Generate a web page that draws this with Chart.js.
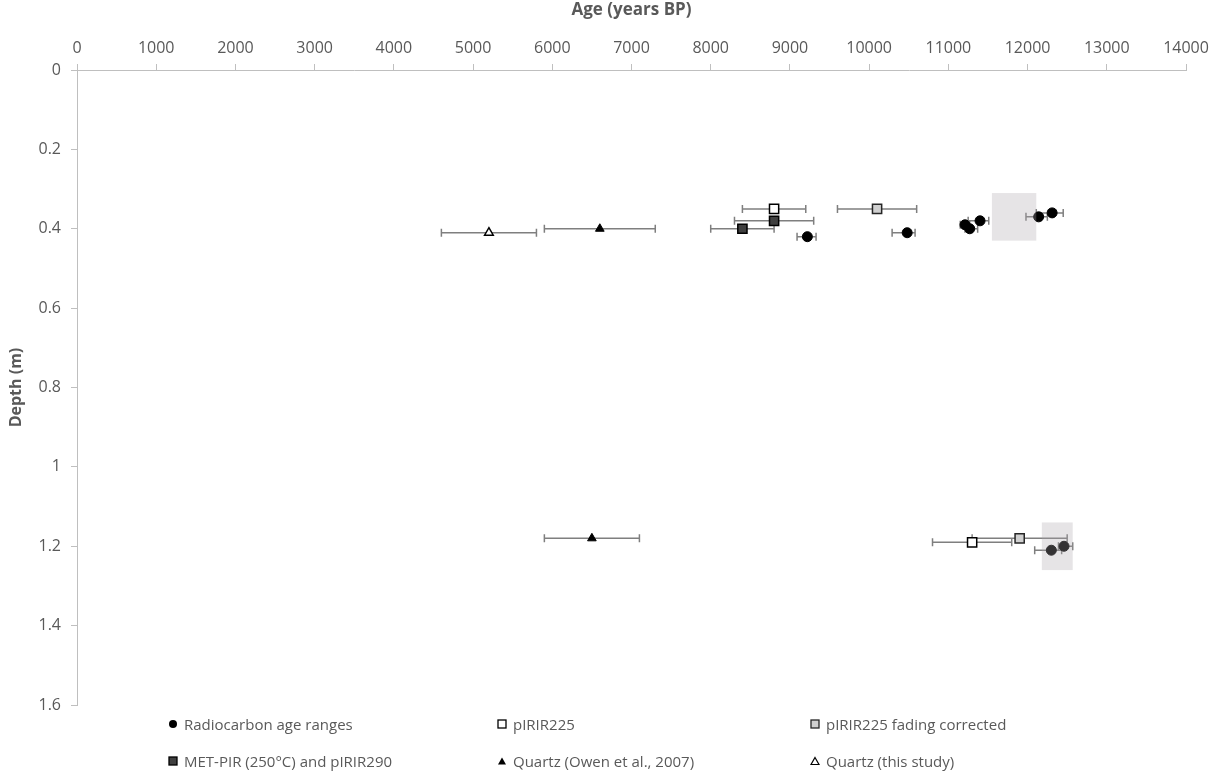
<!DOCTYPE html>
<html>
<head>
<meta charset="utf-8">
<script src="https://cdn.jsdelivr.net/npm/chart.js@4.4.1/dist/chart.umd.min.js"></script>
<style>
  html, body { margin: 0; padding: 0; background: #fff; }
  #wrap { position: relative; width: 1223px; height: 778px; }
  #c { position: absolute; left: 0; top: 0; }
  #legend { position: absolute; left: 0; top: 0; width: 1223px; height: 778px; pointer-events: none;
            font-family: 'Open Sans', sans-serif; font-size: 15px; color: #595959; }
  .item { position: absolute; display: flex; align-items: center; white-space: nowrap; transform: translateY(-50%); }
  .item svg { margin-right: 6px; flex: none; }
</style>
</head>
<body>
<div id="wrap">
  <canvas id="c" width="1223" height="778"></canvas>
  <div id="legend"></div>
</div>
<script>
// Axis ticks
const xTicks = [0, 1000, 2000, 3000, 4000, 5000, 6000, 7000, 8000, 9000, 10000, 11000, 12000, 13000, 14000];
const yTicks = [0, 0.2, 0.4, 0.6, 0.8, 1, 1.2, 1.4, 1.6];

// Radiocarbon age ranges (years BP) with their depths (m)
const radiocarbonAge   = [9220, 10480, 11210, 11270, 11400, 12140, 12310, 12300, 12460];
const radiocarbonDepth = [0.42, 0.41, 0.39, 0.40, 0.38, 0.37, 0.36, 1.21, 1.20];
const radiocarbonLow   = [9090, 10290, 11150, 11210, 11250, 11980, 12110, 12090, 12390];
const radiocarbonHigh  = [9330, 10580, 11270, 11370, 11510, 12250, 12450, 12430, 12570];

// pIRIR225
const pirAge   = [8800, 11300];
const pirDepth = [0.35, 1.19];
const pirLow   = [8400, 10800];
const pirHigh  = [9200, 11800];

// pIRIR225 fading corrected
const fadeAge   = [10100, 11900];
const fadeDepth = [0.35, 1.18];
const fadeLow   = [9600, 11300];
const fadeHigh  = [10600, 12500];

// MET-PIR (250°C) and pIRIR290
const metAge   = [8800, 8400];
const metDepth = [0.38, 0.40];
const metLow   = [8300, 8000];
const metHigh  = [9300, 8800];

// Quartz (Owen et al., 2007)
const owenAge   = [6600, 6500];
const owenDepth = [0.40, 1.18];
const owenLow   = [5900, 5900];
const owenHigh  = [7300, 7100];

// Quartz (this study)
const qtzAge   = [5200];
const qtzDepth = [0.41];
const qtzLow   = [4600];
const qtzHigh  = [5800];

// Shaded calibrated ranges
const boxAgeFrom     = [11550, 12180];
const boxAgeTo       = [12110, 12570];
const boxDepthTop    = [0.31, 1.14];
const boxDepthBottom = [0.43, 1.26];

const FONT = "'Open Sans', sans-serif";
const TEXT = '#595959';
const AXIS = '#bfbfbf';

const pts = (ages, depths) => ages.map((a, i) => ({ x: a, y: depths[i] }));

// Horizontal error bars with end caps, drawn beneath the markers
const errorBars = {
  id: 'errorBars',
  beforeDatasetsDraw(chart) {
    const { ctx, scales: { x, y } } = chart;
    ctx.save();
    ctx.strokeStyle = '#7f7f7f';
    ctx.lineWidth = 1.5;
    chart.data.datasets.forEach((ds, i) => {
      if (!ds.errLow || !chart.isDatasetVisible(i)) return;
      ds.data.forEach((p, j) => {
        const yy = y.getPixelForValue(p.y);
        const x0 = x.getPixelForValue(ds.errLow[j]);
        const x1 = x.getPixelForValue(ds.errHigh[j]);
        ctx.beginPath();
        ctx.moveTo(x0, yy); ctx.lineTo(x1, yy);
        ctx.moveTo(x0, yy - 4); ctx.lineTo(x0, yy + 4);
        ctx.moveTo(x1, yy - 4); ctx.lineTo(x1, yy + 4);
        ctx.stroke();
      });
    });
    ctx.restore();
  }
};

// Translucent boxes over the calibrated age ranges
const rangeBoxes = {
  id: 'rangeBoxes',
  afterDatasetsDraw(chart) {
    const { ctx, scales: { x, y } } = chart;
    ctx.save();
    ctx.fillStyle = 'rgba(172,166,172,0.30)';
    boxAgeFrom.forEach((a, i) => {
      const x0 = x.getPixelForValue(a), x1 = x.getPixelForValue(boxAgeTo[i]);
      const y0 = y.getPixelForValue(boxDepthTop[i]), y1 = y.getPixelForValue(boxDepthBottom[i]);
      ctx.fillRect(x0, y0, x1 - x0, y1 - y0);
    });
    ctx.restore();
  }
};

const datasets = [
  { label: 'Radiocarbon age ranges', data: pts(radiocarbonAge, radiocarbonDepth), errLow: radiocarbonLow, errHigh: radiocarbonHigh,
    pointStyle: 'circle', pointRadius: 5, backgroundColor: '#000', borderColor: '#000', borderWidth: 1 },
  { label: 'pIRIR225', data: pts(pirAge, pirDepth), errLow: pirLow, errHigh: pirHigh,
    pointStyle: 'rect', pointRadius: 6.5, backgroundColor: '#fff', borderColor: '#000', borderWidth: 1.5 },
  { label: 'pIRIR225 fading corrected', data: pts(fadeAge, fadeDepth), errLow: fadeLow, errHigh: fadeHigh,
    pointStyle: 'rect', pointRadius: 6.5, backgroundColor: '#d0d0d0', borderColor: '#262626', borderWidth: 1.5 },
  { label: 'MET-PIR (250°C) and pIRIR290', data: pts(metAge, metDepth), errLow: metLow, errHigh: metHigh,
    pointStyle: 'rect', pointRadius: 6.5, backgroundColor: '#404040', borderColor: '#000', borderWidth: 1.5 },
  { label: 'Quartz (Owen et al., 2007)', data: pts(owenAge, owenDepth), errLow: owenLow, errHigh: owenHigh,
    pointStyle: 'triangle', pointRadius: 5, backgroundColor: '#000', borderColor: '#000', borderWidth: 1 },
  { label: 'Quartz (this study)', data: pts(qtzAge, qtzDepth), errLow: qtzLow, errHigh: qtzHigh,
    pointStyle: 'triangle', pointRadius: 5, backgroundColor: '#fff', borderColor: '#000', borderWidth: 1.5 }
];

new Chart(document.getElementById('c'), {
  type: 'scatter',
  data: { datasets },
  plugins: [errorBars, rangeBoxes],
  options: {
    responsive: false,
    animation: false,
    layout: { padding: { left: 0, top: 0, right: 37, bottom: 73 } },
    plugins: { legend: { display: false }, tooltip: { enabled: false } },
    scales: {
      x: {
        type: 'linear', position: 'top', min: 0, max: 14000,
        afterBuildTicks: s => { s.ticks = xTicks.map(v => ({ value: v })); },
        afterFit: s => { s.height = 70; },
        grid: { drawOnChartArea: false, drawTicks: true, tickLength: 6, color: AXIS },
        border: { color: AXIS, width: 1 },
        ticks: { color: TEXT, font: { family: FONT, size: 16 }, padding: 6, maxRotation: 0, autoSkip: false,
                 callback: v => String(v) },
        title: { display: true, text: 'Age (years BP)', color: TEXT, font: { family: FONT, size: 17, weight: 'bold' },
                 padding: { top: 0, bottom: 0 } }
      },
      y: {
        type: 'linear', position: 'left', reverse: true, min: 0, max: 1.6,
        afterBuildTicks: s => { s.ticks = yTicks.map(v => ({ value: v })); },
        afterFit: s => { s.width = 77; },
        grid: { drawOnChartArea: false, drawTicks: true, tickLength: 6, color: AXIS },
        border: { color: AXIS, width: 1 },
        ticks: { color: TEXT, font: { family: FONT, size: 16 }, padding: 10, autoSkip: false,
                 callback: v => String(v) },
        title: { display: true, text: 'Depth (m)', color: TEXT, font: { family: FONT, size: 16, weight: 'bold' },
                 padding: { top: 7, bottom: 0 } }
      }
    }
  }
});

// Legend: three columns, two rows
const legendCols = [168, 497, 810];
const legendRows = [724, 761];
const markerSvg = {
  'Radiocarbon age ranges': '<circle cx="5" cy="5" r="4" fill="#000"/>',
  'pIRIR225': '<rect x="1" y="1" width="8" height="8" fill="#fff" stroke="#000" stroke-width="1.3"/>',
  'pIRIR225 fading corrected': '<rect x="1" y="1" width="8" height="8" fill="#d0d0d0" stroke="#262626" stroke-width="1.3"/>',
  'MET-PIR (250°C) and pIRIR290': '<rect x="1" y="1" width="8" height="8" fill="#404040" stroke="#000" stroke-width="1.3"/>',
  'Quartz (Owen et al., 2007)': '<polygon points="5,1.5 9,8.5 1,8.5" fill="#000"/>',
  'Quartz (this study)': '<polygon points="5,1.5 9,8.5 1,8.5" fill="#fff" stroke="#000" stroke-width="1.2"/>'
};
const legend = document.getElementById('legend');
datasets.forEach((ds, i) => {
  const el = document.createElement('div');
  el.className = 'item';
  el.style.left = legendCols[i % 3] + 'px';
  el.style.top = legendRows[Math.floor(i / 3)] + 'px';
  el.innerHTML = '<svg width="10" height="10" viewBox="0 0 10 10">' + markerSvg[ds.label] + '</svg><span></span>';
  el.querySelector('span').textContent = ds.label;
  legend.appendChild(el);
});
</script>
</body>
</html>
